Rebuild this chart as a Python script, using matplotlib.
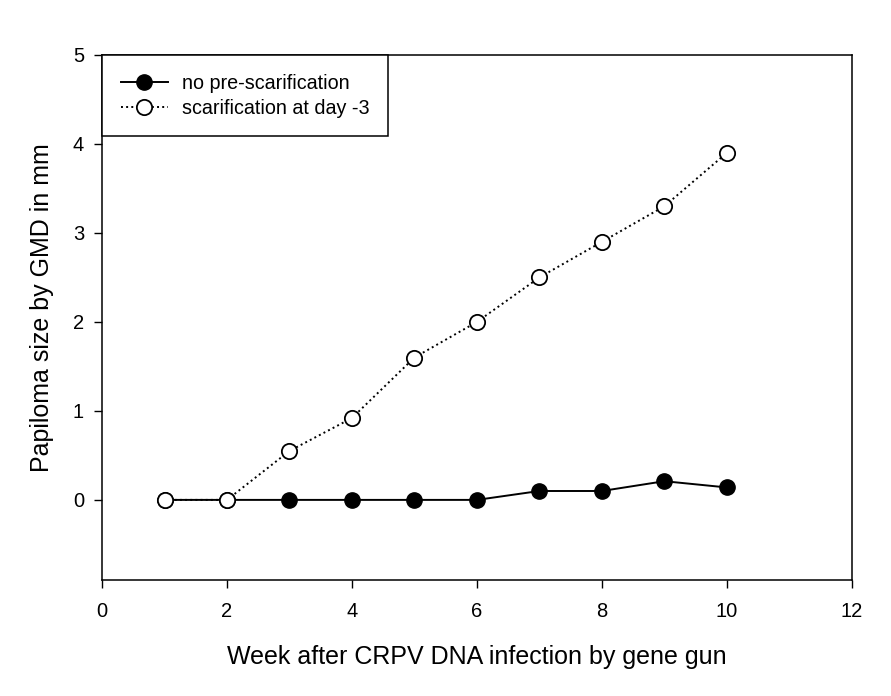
import matplotlib
matplotlib.use("Agg")
import matplotlib.pyplot as plt

plt.rcParams['font.family'] = ['Liberation Sans', 'DejaVu Sans']

weeks = [1, 2, 3, 4, 5, 6, 7, 8, 9, 10]
no_prescar = [0, 0, 0, 0, 0, 0, 0.1, 0.1, 0.21, 0.14]
scar_day3 = [0, 0, 0.55, 0.92, 1.6, 2.0, 2.5, 2.9, 3.3, 3.9]
xticks = [0, 2, 4, 6, 8, 10, 12]
yticks = [0, 1, 2, 3, 4, 5]

fig = plt.figure(figsize=(8.91, 6.96), dpi=100)
ax = fig.add_axes([0.1145, 0.1667, 0.8415, 0.7543])

ax.plot(weeks, no_prescar, '-o', color='black', mfc='black', mec='black',
        ms=11, lw=1.4, label='no pre-scarification', zorder=2)
ax.plot(weeks, scar_day3, ':o', color='black', mfc='white', mec='black',
        ms=11, lw=1.4, mew=1.3, label='scarification at day -3', zorder=3)

ax.set_xlim(0, 12)
ax.set_ylim(-0.9, 5)
ax.set_xticks(xticks)
ax.set_yticks(yticks)
ax.tick_params(direction='out', length=6, width=1, labelsize=14.5,
               top=False, right=False)
ax.tick_params(axis='x', pad=10)
ax.tick_params(axis='y', pad=7)
for s in ax.spines.values():
    s.set_linewidth(1.1)

ax.set_xlabel('Week after CRPV DNA infection by gene gun', fontsize=18, labelpad=17)
ax.set_ylabel('Papiloma size by GMD in mm', fontsize=18)
ax.yaxis.set_label_coords(-0.064, 0.518)

leg = ax.legend(loc='upper left', bbox_to_anchor=(0, 1), borderaxespad=0,
                fancybox=False, edgecolor='black', fontsize=14.2, framealpha=1,
                handlelength=2.4, handletextpad=0.7, borderpad=0.95, labelspacing=0.3)
leg.get_frame().set_linewidth(1.1)

fig.savefig('out.png', dpi=100)
